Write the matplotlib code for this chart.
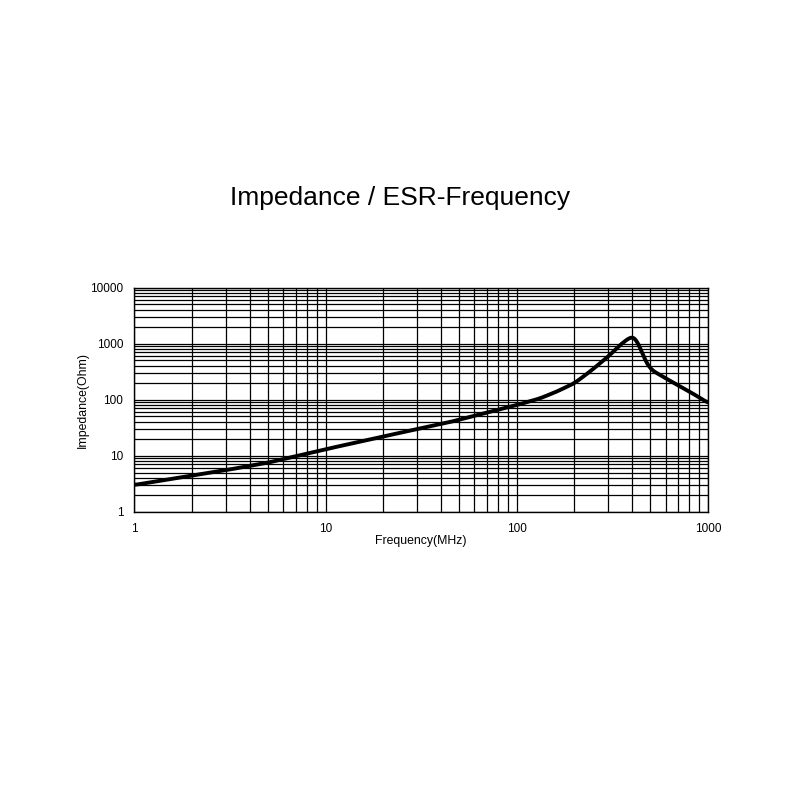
import matplotlib
matplotlib.use("Agg")
import matplotlib.pyplot as plt
import matplotlib.ticker as mticker
import numpy as np

# impedance curve (MHz, Ohm)
freq = [1, 2, 3, 5, 10, 20, 45, 100, 132, 161, 200, 241, 300, 353, 378, 395, 415, 431, 468, 500, 600, 804, 1000]
imp = [3.0, 4.4, 5.5, 7.5, 13, 22, 40, 80, 105, 138, 196, 315, 583, 1000, 1170, 1340, 1300, 1030, 509, 347, 240, 138, 87]

x_ticks = [1, 10, 100, 1000]
y_ticks = [1, 10, 100, 1000, 10000]

plt.rcParams['font.family'] = ['Liberation Sans', 'DejaVu Sans']

fig = plt.figure(figsize=(8, 8), dpi=100)
ax = fig.add_axes([0.168, 0.3604, 0.717, 0.2802])

ax.set_xscale('log')
ax.set_yscale('log')
ax.set_xlim(1, 1000)
ax.set_ylim(1, 10000)

# smoothing of the hand-read points in log space
lx = np.log10(freq)
ly = np.log10(imp)
fx = np.linspace(lx[0], lx[-1], 900)
fy = np.interp(fx, lx, ly)
k = np.ones(15) / 15
fy_s = np.convolve(np.pad(fy, 7, mode='edge'), k, mode='valid')
ax.plot(10**fx, 10**fy_s, color='black', lw=2.8, solid_capstyle='round', zorder=3)

ax.xaxis.set_major_locator(mticker.FixedLocator(x_ticks))
ax.yaxis.set_major_locator(mticker.FixedLocator(y_ticks))
ax.xaxis.set_minor_locator(mticker.LogLocator(base=10, subs=np.arange(2, 10)))
ax.yaxis.set_minor_locator(mticker.LogLocator(base=10, subs=np.arange(2, 10)))
ax.xaxis.set_major_formatter(mticker.FixedFormatter([str(v) for v in x_ticks]))
ax.yaxis.set_major_formatter(mticker.FixedFormatter([str(v) for v in y_ticks]))
ax.xaxis.set_minor_formatter(mticker.NullFormatter())
ax.yaxis.set_minor_formatter(mticker.NullFormatter())

ax.grid(True, which='both', color='black', lw=0.9)
ax.tick_params(which='both', length=0, labelsize=8.5)
ax.tick_params(axis='x', pad=8)
ax.tick_params(axis='y', pad=8)
for s in ax.spines.values():
    s.set_linewidth(1.0)

ax.set_xlabel('Frequency(MHz)', fontsize=8.8, labelpad=0)
ax.set_ylabel('Impedance(Ohm)', fontsize=8.8, labelpad=1)

fig.text(0.5, 0.753, 'Impedance / ESR-Frequency', ha='center', va='center',
         fontsize=19, family=['Liberation Sans Narrow', 'Liberation Sans'],
         fontstretch='condensed')

fig.savefig('out.png', dpi=100, facecolor='white')
